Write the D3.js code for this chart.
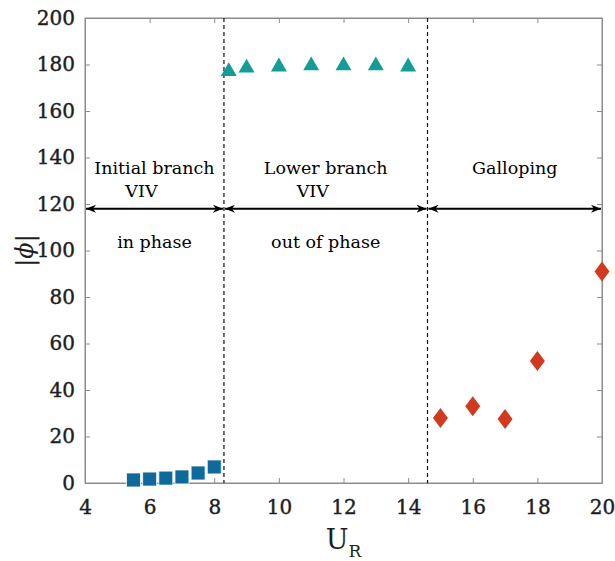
<!DOCTYPE html>
<html>
<head>
<meta charset="utf-8">
<script src="https://cdn.jsdelivr.net/npm/d3@7"></script>
<style>
  html, body { margin: 0; padding: 0; background: #fff; }
  svg text { font-family: "DejaVu Serif", "Liberation Serif", serif; }
</style>
</head>
<body>
<svg id="chart" width="615" height="561"></svg>
<script>
// Phase difference |phi| versus reduced velocity U_R
const initialU = [5.5, 6, 6.5, 7, 7.5, 8];
const initialPhi = [1.3, 1.7, 2.1, 2.6, 4.3, 6.9];

const lowerU = [8.45, 9, 10, 11, 12, 13, 14];
const lowerPhi = [177, 178.5, 179, 179.5, 179.5, 179.5, 179];

const gallopU = [15, 16, 17, 18, 20];
const gallopPhi = [28, 33, 27.5, 52.5, 91];

const xTicks = [4, 6, 8, 10, 12, 14, 16, 18, 20];
const yTicks = [0, 20, 40, 60, 80, 100, 120, 140, 160, 180, 200];

const regimeBounds = [4, 8.3, 14.6, 20];
const arrowPhi = 118;
const regimeLabels = [
  { lines: ["Initial branch", "VIV"], note: "in phase" },
  { lines: ["Lower branch", "VIV"], note: "out of phase" },
  { lines: ["Galloping"], note: "" }
];

const svg = d3.select("#chart");
const plotL = 85, plotR = 602, plotT = 18, plotB = 483;

const x = d3.scaleLinear().domain([4, 20]).range([plotL, plotR]);
const y = d3.scaleLinear().domain([0, 200]).range([plotB, plotT]);

const axisColor = "#8c8c8c";
const textColor = "#1e1e1e";

// frame
svg.append("rect")
  .attr("x", plotL).attr("y", plotT)
  .attr("width", plotR - plotL).attr("height", plotB - plotT)
  .attr("fill", "none").attr("stroke", axisColor).attr("stroke-width", 1);

// axes with inward ticks
const xAxis = svg.append("g").attr("transform", `translate(0,${plotB})`)
  .call(d3.axisBottom(x).tickValues(xTicks).tickSizeInner(-5).tickSizeOuter(0).tickPadding(17));
const xAxisTop = svg.append("g").attr("transform", `translate(0,${plotT})`)
  .call(d3.axisTop(x).tickValues(xTicks).tickSizeInner(-5).tickSizeOuter(0).tickFormat(""));
const yAxis = svg.append("g").attr("transform", `translate(${plotL},0)`)
  .call(d3.axisLeft(y).tickValues(yTicks).tickSizeInner(-5).tickSizeOuter(0).tickPadding(10));
const yAxisRight = svg.append("g").attr("transform", `translate(${plotR},0)`)
  .call(d3.axisRight(y).tickValues(yTicks).tickSizeInner(-5).tickSizeOuter(0).tickFormat(""));

[xAxis, xAxisTop, yAxis, yAxisRight].forEach(g => {
  g.select(".domain").attr("stroke", axisColor);
  g.selectAll(".tick line").attr("stroke", axisColor);
  g.selectAll(".tick text")
    .attr("fill", textColor)
    .attr("stroke", textColor).attr("stroke-width", 0.4)
    .style("font-family", '"DejaVu Serif", serif')
    .style("font-size", "20px");
});
xAxis.selectAll(".tick text").attr("dy", "0.71em");

// axis titles
const xt = svg.append("text")
  .attr("x", x(12)).attr("y", 549)
  .attr("text-anchor", "middle")
  .attr("fill", textColor)
  .style("font-size", "27px");
xt.append("tspan").text("U");
xt.append("tspan").attr("dy", 8).style("font-size", "17px").text("R");

svg.append("text")
  .attr("transform", `translate(33,${y(100)}) rotate(-90)`)
  .attr("text-anchor", "middle")
  .attr("fill", textColor)
  .style("font-size", "24px")
  .style("font-style", "italic")
  .text("|ϕ|");

// regime boundaries
svg.selectAll("line.bound")
  .data(regimeBounds.slice(1, 3))
  .join("line")
  .attr("class", "bound")
  .attr("x1", d => x(d)).attr("x2", d => x(d))
  .attr("y1", plotT).attr("y2", plotB)
  .attr("stroke", "#111").attr("stroke-width", 1.2)
  .attr("stroke-dasharray", "4,3");

// arrow markers
const defs = svg.append("defs");
defs.append("marker").attr("id", "arrowEnd")
  .attr("viewBox", "0 0 10 10").attr("refX", 10).attr("refY", 5)
  .attr("markerWidth", 10).attr("markerHeight", 10)
  .attr("markerUnits", "userSpaceOnUse").attr("orient", "auto-start-reverse")
  .append("path").attr("d", "M0,1 L10,5 L0,9 L3,5 Z").attr("fill", "#000");

svg.selectAll("line.span")
  .data(d3.pairs(regimeBounds))
  .join("line")
  .attr("class", "span")
  .attr("x1", d => x(d[0]) + 1).attr("x2", d => x(d[1]) - 1)
  .attr("y1", y(arrowPhi)).attr("y2", y(arrowPhi))
  .attr("stroke", "#000").attr("stroke-width", 2)
  .attr("marker-start", "url(#arrowEnd)")
  .attr("marker-end", "url(#arrowEnd)");

// regime labels
const pairs = d3.pairs(regimeBounds);
regimeLabels.forEach((lab, i) => {
  const cx = (x(pairs[i][0]) + x(pairs[i][1])) / 2;
  const t = svg.append("text")
    .attr("x", cx).attr("y", 174)
    .attr("text-anchor", "middle")
    .attr("fill", "#000")
    .style("font-family", '"DejaVu Serif", serif')
    .style("font-size", "17.5px");
  t.append("tspan").attr("x", cx).text(lab.lines[0]);
  if (lab.lines[1]) t.append("tspan").attr("x", cx - 13).attr("dy", 23).text(lab.lines[1]);
  if (lab.note) svg.append("text")
    .attr("x", cx).attr("y", 248)
    .attr("text-anchor", "middle")
    .attr("fill", "#000")
    .style("font-family", '"DejaVu Serif", serif')
    .style("font-size", "17.5px")
    .text(lab.note);
});

// markers
const sq = d3.symbol().type(d3.symbolSquare).size(196);
const tri = d3.symbol().type(d3.symbolTriangle).size(110);

svg.append("g").selectAll("path")
  .data(d3.zip(initialU, initialPhi))
  .join("path")
  .attr("d", sq)
  .attr("transform", d => `translate(${x(d[0])},${y(d[1])})`)
  .attr("fill", "#0e6a9c").attr("stroke", "#fff").attr("stroke-width", 0.8);

svg.append("g").selectAll("path")
  .data(d3.zip(lowerU, lowerPhi))
  .join("path")
  .attr("d", tri)
  .attr("transform", d => `translate(${x(d[0])},${y(d[1])})`)
  .attr("fill", "#149c97");

const diamond = "M0,-10 L7.5,0 L0,10 L-7.5,0 Z";
svg.append("g").selectAll("path")
  .data(d3.zip(gallopU, gallopPhi))
  .join("path")
  .attr("d", diamond)
  .attr("transform", d => `translate(${x(d[0])},${y(d[1])})`)
  .attr("fill", "#d2391f");
</script>
</body>
</html>
